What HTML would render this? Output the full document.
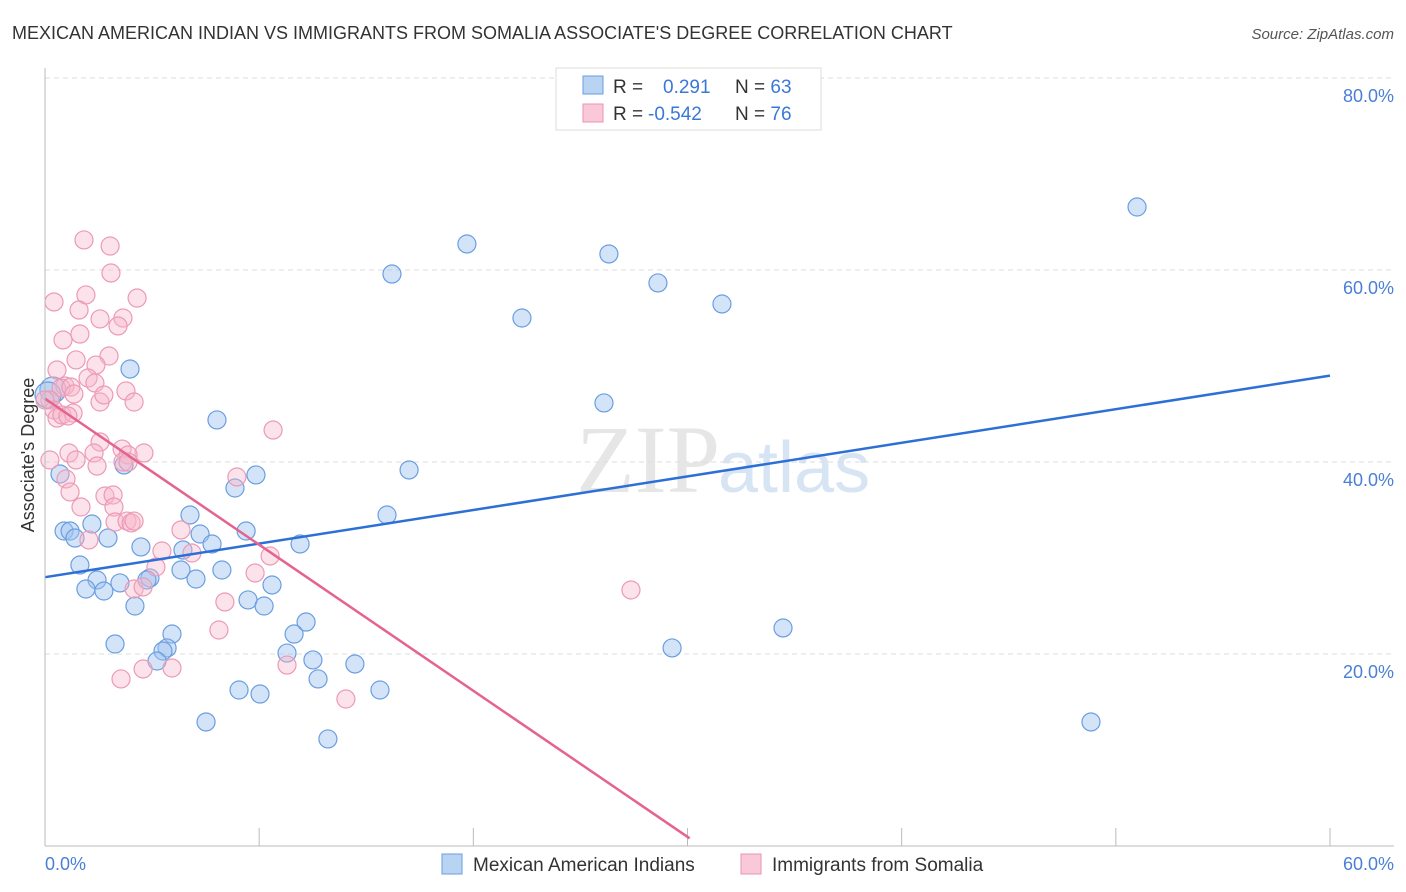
<!DOCTYPE html>
<html><head><meta charset="utf-8"><style>
body{margin:0;background:#fff;font-family:"Liberation Sans",sans-serif}
</style></head><body>
<svg width="1406" height="892" style="display:block">
<text x="12" y="39" font-size="18" fill="#333">MEXICAN AMERICAN INDIAN VS IMMIGRANTS FROM SOMALIA ASSOCIATE'S DEGREE CORRELATION CHART</text>
<text x="1394" y="39" font-size="15" fill="#555" font-style="italic" text-anchor="end">Source: ZipAtlas.com</text>
<text x="720" y="492" font-size="96" fill="#e6e6e6" text-anchor="end" font-family="Liberation Serif">ZIP</text>
<text x="718" y="492" font-size="72" fill="#d6e4f3">atlas</text>
<g id="grid"></g><g id="pts"></g><g id="lines"></g>
<line x1="45" y1="68" x2="45" y2="846" stroke="#bbb"/>
<line x1="45" y1="846" x2="1394" y2="846" stroke="#bbb"/>
<text x="34" y="455" font-size="18" fill="#333" text-anchor="middle" transform="rotate(-90 34 455)">Associate's Degree</text>
<text x="45" y="870" font-size="18" fill="#4a7fd6">0.0%</text>
<text x="1394" y="870" font-size="18" fill="#4a7fd6" text-anchor="end">60.0%</text>
<g>
<rect x="556" y="68" width="265" height="62" fill="#fff" stroke="#ddd"/>
<rect x="583" y="76" width="20" height="18" fill="#b9d3f3" stroke="#6a9ee0"/>
<rect x="583" y="104" width="20" height="18" fill="#f9c9d7" stroke="#eb93b0"/>
<text x="613" y="93" font-size="19" fill="#333">R = <tspan fill="#3a78d8" x="663">0.291</tspan><tspan x="735">N = </tspan><tspan fill="#3a78d8">63</tspan></text>
<text x="613" y="120" font-size="19" fill="#333">R = <tspan fill="#3a78d8" x="648">-0.542</tspan><tspan x="735">N = </tspan><tspan fill="#3a78d8">76</tspan></text>
</g>
<g>
<rect x="442" y="854" width="20" height="20" fill="#b9d3f3" stroke="#6a9ee0"/>
<text x="473" y="871" font-size="19" fill="#333">Mexican American Indians</text>
<rect x="741" y="854" width="20" height="20" fill="#f9c9d7" stroke="#eb93b0"/>
<text x="772" y="871" font-size="19" fill="#333">Immigrants from Somalia</text>
</g>
</svg>
<script>
const yTicks=[20,40,60,80];
const xTicks=[0,5,10,15,20,25,30,35,40,45,50,55,60];
const bluePx=[[1137,207],[467,244],[609,254],[392,274],[658,283],[722,304],[522,318],[130,369],[604,403],[217,420],[409,470],[60,474],[256,475],[124,465],[235,488],[387,515],[190,515],[92,524],[64,531],[70,531],[75,538],[108,538],[246,531],[200,534],[300,544],[141,547],[212,544],[183,550],[80,565],[97,580],[120,583],[150,578],[147,580],[181,570],[196,579],[222,570],[272,585],[248,600],[264,606],[135,606],[86,589],[104,591],[306,622],[294,634],[172,634],[167,648],[163,651],[115,644],[672,648],[783,628],[287,653],[313,660],[355,664],[157,661],[318,679],[239,690],[260,694],[380,690],[206,722],[1091,722],[328,739],[53,390],[48,395]];
const pinkPx=[[84,240],[110,246],[111,273],[54,302],[86,295],[137,298],[79,310],[100,319],[123,318],[118,326],[80,334],[63,340],[76,360],[109,356],[96,365],[57,370],[88,378],[126,391],[95,383],[100,402],[65,386],[61,388],[71,387],[74,394],[50,400],[54,410],[57,418],[62,415],[73,413],[68,416],[134,402],[104,395],[273,430],[237,477],[100,442],[69,453],[94,453],[144,453],[122,449],[128,455],[76,460],[97,466],[123,462],[66,479],[70,492],[81,507],[105,496],[113,495],[114,507],[115,522],[127,521],[131,523],[134,521],[181,530],[162,551],[192,553],[270,556],[156,567],[255,573],[631,590],[134,589],[143,587],[225,602],[219,630],[287,665],[121,679],[143,669],[172,668],[346,699],[89,540],[128,462],[50,460],[45,400]];
// convert to data values (x %, y %)
const blueX=bluePx.map(p=>+((p[0]-45)/1285*60).toFixed(2));
const blueY=bluePx.map(p=>+((846-p[1])/192*20).toFixed(2));
const pinkX=pinkPx.map(p=>+((p[0]-45)/1285*60).toFixed(2));
const pinkY=pinkPx.map(p=>+((846-p[1])/192*20).toFixed(2));
const blueTrend=[28.0,49.0];
const pinkTrend=[46.6,0.8];
const pinkTrendEndX=30.1;
const sx=v=>45+v/60*1285, sy=v=>846-v/20*192;
const NS='http://www.w3.org/2000/svg';
function mk(t,a,parent){const e=document.createElementNS(NS,t);for(const k in a)e.setAttribute(k,a[k]);document.getElementById(parent).appendChild(e);return e;}
yTicks.forEach(t=>{
const l=mk('line',{x1:45,x2:1394,y1:sy(t),y2:sy(t),stroke:'#ddd','stroke-dasharray':'5,4'},'grid');


const tx=mk('text',{x:1394,y:sy(t)+24,'font-size':18,fill:'#4a7fd6','text-anchor':'end'},'grid');
tx.textContent=t.toFixed(1)+'%';


});
xTicks.forEach((t,i)=>{if(i%2)return;
const l=mk('line',{x1:sx(t),x2:sx(t),y1:828,y2:846,stroke:'#bbb'},'grid');


});
[[10],[20],[30],[40],[50]].forEach(()=>{});
[2.5*2,15,25,35,45,55].forEach(t=>{});
blueX.forEach((x,i)=>{
const big=i>=blueX.length-2;
const c=mk('circle',{cx:sx(x),cy:sy(blueY[i]),r:big?13:9,fill:'rgba(160,196,240,0.45)',stroke:'#6a9ee0','stroke-width':1.2},'pts');


});
pinkX.forEach((x,i)=>{
const c=mk('circle',{cx:sx(x),cy:sy(pinkY[i]),r:9,fill:'rgba(248,182,202,0.4)',stroke:'#ec9ab5','stroke-width':1.2},'pts');


});
const bl=mk('line',{x1:sx(0),y1:sy(blueTrend[0]),x2:sx(60),y2:sy(blueTrend[1]),stroke:'#2c6fd6','stroke-width':2.5},'lines');


const pl=mk('line',{x1:sx(0),y1:sy(pinkTrend[0]),x2:sx(pinkTrendEndX),y2:sy(pinkTrend[1]),stroke:'#e4638f','stroke-width':2.5},'lines');


</script>
</body></html>
